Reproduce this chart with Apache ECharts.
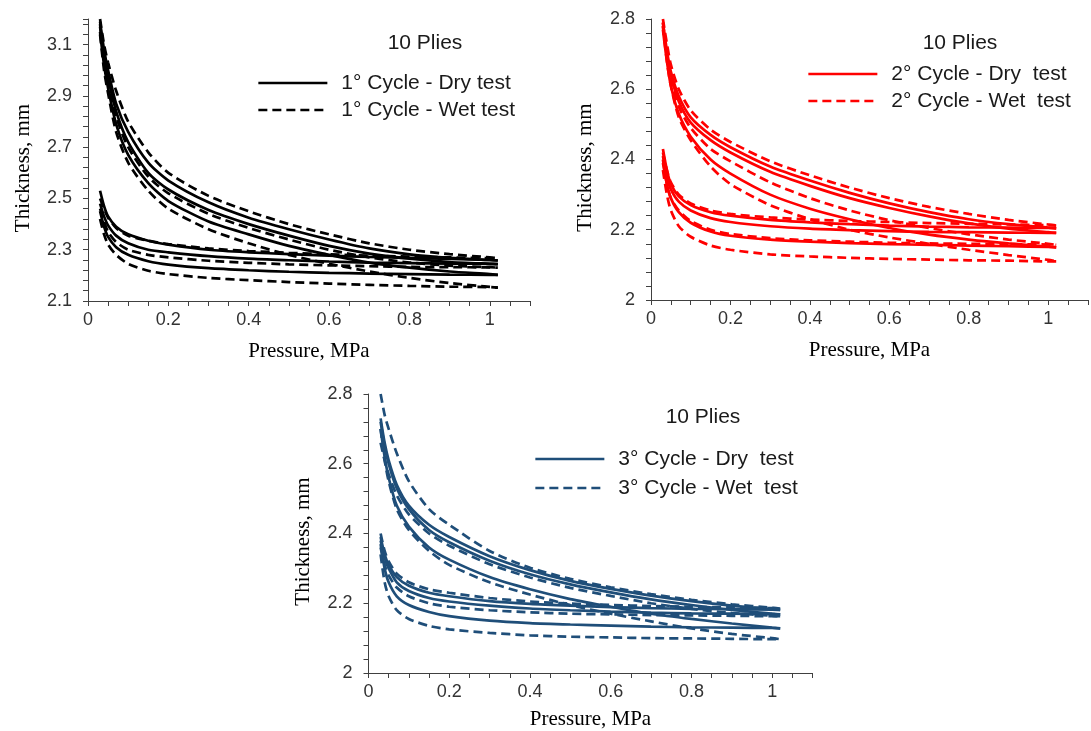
<!DOCTYPE html>
<html>
<head>
<meta charset="utf-8">
<script src="https://cdn.jsdelivr.net/npm/echarts@6/dist/echarts.min.js"></script>
<style>
  html, body { margin: 0; padding: 0; background: #ffffff; }
  #chart { width: 1091px; height: 731px; }
</style>
</head>
<body>
<div id="chart"></div>
<script>
// Pressure (MPa) at which thickness was recorded; shared by every branch
const pressure = [0.03, 0.04, 0.05, 0.07, 0.1, 0.15, 0.2, 0.3, 0.4, 0.5, 0.6, 0.7, 0.8, 0.9, 1.0, 1.02];

// Tick labels
const xTickLabels = ['0', '0.2', '0.4', '0.6', '0.8', '1'];
const yTickLabelsCycle1 = ['2.1', '2.3', '2.5', '2.7', '2.9', '3.1'];
const yTickLabelsCycle23 = ['2', '2.2', '2.4', '2.6', '2.8'];

// ---- 1st cycle: thickness (mm), one row per specimen ----
const cycle1DryLoading = [
  [3.19, 3.08, 3.00, 2.87, 2.76, 2.64, 2.570, 2.485, 2.425, 2.38, 2.340, 2.305, 2.282, 2.268, 2.260, 2.258],
  [3.17, 3.05, 2.97, 2.84, 2.72, 2.60, 2.535, 2.455, 2.400, 2.355, 2.315, 2.285, 2.265, 2.252, 2.245, 2.244],
  [3.15, 3.02, 2.93, 2.79, 2.67, 2.56, 2.490, 2.410, 2.360, 2.315, 2.280, 2.250, 2.230, 2.215, 2.205, 2.202]
];
const cycle1DryUnloading = [
  [2.53, 2.47, 2.43, 2.39, 2.36, 2.335, 2.320, 2.300, 2.290, 2.283, 2.277, 2.272, 2.268, 2.264, 2.260, 2.258],
  [2.48, 2.43, 2.395, 2.355, 2.325, 2.300, 2.290, 2.275, 2.265, 2.259, 2.254, 2.250, 2.248, 2.246, 2.245, 2.244],
  [2.45, 2.39, 2.35, 2.31, 2.28, 2.255, 2.242, 2.228, 2.220, 2.214, 2.210, 2.207, 2.205, 2.203, 2.202, 2.202]
];
const cycle1WetLoading = [
  [3.20, 3.10, 3.03, 2.92, 2.80, 2.68, 2.600, 2.510, 2.450, 2.400, 2.360, 2.325, 2.300, 2.283, 2.270, 2.267],
  [3.18, 3.05, 2.96, 2.82, 2.70, 2.585, 2.520, 2.440, 2.385, 2.340, 2.300, 2.270, 2.250, 2.238, 2.232, 2.230],
  [3.14, 3.00, 2.91, 2.76, 2.64, 2.53, 2.460, 2.380, 2.325, 2.280, 2.245, 2.215, 2.190, 2.170, 2.155, 2.152]
];
const cycle1WetUnloading = [
  [2.50, 2.46, 2.425, 2.385, 2.355, 2.335, 2.322, 2.305, 2.295, 2.288, 2.282, 2.277, 2.273, 2.270, 2.267, 2.267],
  [2.46, 2.41, 2.37, 2.33, 2.30, 2.280, 2.270, 2.257, 2.249, 2.243, 2.239, 2.236, 2.233, 2.232, 2.231, 2.230],
  [2.42, 2.36, 2.32, 2.28, 2.245, 2.218, 2.205, 2.190, 2.181, 2.174, 2.168, 2.163, 2.159, 2.156, 2.154, 2.152]
];

// ---- 2nd cycle ----
const cycle2DryLoading = [
  [2.79, 2.71, 2.65, 2.58, 2.52, 2.47, 2.435, 2.380, 2.340, 2.305, 2.275, 2.250, 2.230, 2.216, 2.206, 2.204],
  [2.78, 2.70, 2.64, 2.565, 2.505, 2.455, 2.420, 2.365, 2.325, 2.290, 2.262, 2.238, 2.218, 2.203, 2.193, 2.191],
  [2.77, 2.68, 2.61, 2.53, 2.465, 2.40, 2.360, 2.300, 2.260, 2.230, 2.205, 2.186, 2.172, 2.161, 2.152, 2.150]
];
const cycle2DryUnloading = [
  [2.43, 2.37, 2.33, 2.295, 2.27, 2.25, 2.240, 2.228, 2.221, 2.216, 2.212, 2.209, 2.207, 2.206, 2.205, 2.204],
  [2.41, 2.35, 2.315, 2.28, 2.255, 2.233, 2.222, 2.210, 2.203, 2.199, 2.196, 2.194, 2.193, 2.192, 2.191, 2.191],
  [2.40, 2.33, 2.29, 2.25, 2.22, 2.195, 2.183, 2.172, 2.166, 2.162, 2.159, 2.157, 2.155, 2.153, 2.151, 2.150]
];
const cycle2WetLoading = [
  [2.80, 2.73, 2.67, 2.60, 2.54, 2.485, 2.450, 2.395, 2.355, 2.320, 2.290, 2.265, 2.245, 2.228, 2.215, 2.212],
  [2.79, 2.70, 2.63, 2.55, 2.49, 2.43, 2.395, 2.335, 2.290, 2.255, 2.227, 2.205, 2.187, 2.172, 2.160, 2.157],
  [2.78, 2.68, 2.61, 2.52, 2.455, 2.38, 2.330, 2.270, 2.230, 2.200, 2.178, 2.160, 2.143, 2.128, 2.114, 2.110]
];
const cycle2WetUnloading = [
  [2.42, 2.37, 2.335, 2.30, 2.275, 2.255, 2.245, 2.235, 2.229, 2.225, 2.222, 2.219, 2.217, 2.215, 2.213, 2.212],
  [2.39, 2.33, 2.29, 2.255, 2.225, 2.20, 2.188, 2.176, 2.170, 2.166, 2.163, 2.161, 2.160, 2.159, 2.158, 2.157],
  [2.37, 2.30, 2.255, 2.21, 2.18, 2.155, 2.143, 2.130, 2.124, 2.120, 2.117, 2.115, 2.113, 2.112, 2.110, 2.110]
];

// ---- 3rd cycle ----
const cycle3DryLoading = [
  [2.73, 2.66, 2.61, 2.54, 2.48, 2.425, 2.390, 2.335, 2.295, 2.264, 2.241, 2.222, 2.206, 2.193, 2.183, 2.181],
  [2.72, 2.65, 2.60, 2.53, 2.47, 2.41, 2.375, 2.322, 2.283, 2.254, 2.231, 2.211, 2.195, 2.181, 2.170, 2.168],
  [2.70, 2.62, 2.56, 2.48, 2.42, 2.36, 2.325, 2.275, 2.240, 2.212, 2.190, 2.170, 2.155, 2.142, 2.130, 2.128]
];
const cycle3DryUnloading = [
  [2.39, 2.34, 2.31, 2.275, 2.25, 2.23, 2.220, 2.206, 2.198, 2.193, 2.189, 2.186, 2.184, 2.183, 2.182, 2.181],
  [2.38, 2.33, 2.30, 2.26, 2.235, 2.215, 2.205, 2.193, 2.185, 2.180, 2.176, 2.173, 2.171, 2.170, 2.169, 2.168],
  [2.37, 2.30, 2.26, 2.22, 2.195, 2.175, 2.163, 2.150, 2.143, 2.139, 2.136, 2.133, 2.131, 2.130, 2.129, 2.128]
];
const cycle3WetLoading = [
  [2.80, 2.74, 2.70, 2.63, 2.55, 2.47, 2.425, 2.350, 2.302, 2.270, 2.246, 2.226, 2.210, 2.197, 2.187, 2.185],
  [2.66, 2.61, 2.57, 2.51, 2.455, 2.40, 2.365, 2.312, 2.274, 2.244, 2.221, 2.200, 2.184, 2.172, 2.164, 2.163],
  [2.70, 2.61, 2.55, 2.47, 2.41, 2.35, 2.310, 2.260, 2.225, 2.195, 2.170, 2.148, 2.128, 2.112, 2.100, 2.097]
];
const cycle3WetUnloading = [
  [2.40, 2.35, 2.32, 2.285, 2.26, 2.24, 2.230, 2.215, 2.205, 2.199, 2.195, 2.192, 2.190, 2.188, 2.186, 2.185],
  [2.36, 2.31, 2.28, 2.245, 2.22, 2.20, 2.190, 2.180, 2.174, 2.170, 2.168, 2.166, 2.165, 2.164, 2.163, 2.163],
  [2.34, 2.26, 2.22, 2.18, 2.155, 2.135, 2.125, 2.115, 2.108, 2.104, 2.102, 2.100, 2.099, 2.098, 2.097, 2.097]
];

const SANS = "'Liberation Sans', Arial, sans-serif";
const SERIF = "'Liberation Serif', 'Times New Roman', serif";
const AXIS_COLOR = '#404040';
const TEXT_COLOR = '#1a1a1a';

// Layout and styling of the three panels
const panels = [
  {
    grid: { left: 88, top: 19, width: 442, height: 282 },
    yMin: 2.1, yMax: 3.2, yLabels: yTickLabelsCycle1,
    color: '#000000',
    dryName: '1° Cycle - Dry test', wetName: '1° Cycle - Wet test',
    legend: { left: 252, top: 67, itemGap: 5 },
    title: { left: 420, top: 28 },
    nameGapX: 40, nameGapY: 54,
    dry: [cycle1DryLoading, cycle1DryUnloading],
    wet: [cycle1WetLoading, cycle1WetUnloading]
  },
  {
    grid: { left: 651, top: 19, width: 442, height: 281 },
    yMin: 2.0, yMax: 2.8, yLabels: yTickLabelsCycle23,
    color: '#ff0000',
    dryName: '2° Cycle - Dry  test', wetName: '2° Cycle - Wet  test',
    legend: { left: 802, top: 58, itemGap: 5 },
    title: { left: 955, top: 28 },
    nameGapX: 40, nameGapY: 55,
    dry: [cycle2DryLoading, cycle2DryUnloading],
    wet: [cycle2WetLoading, cycle2WetUnloading]
  },
  {
    grid: { left: 368.5, top: 394, width: 444, height: 279 },
    yMin: 2.0, yMax: 2.8, yLabels: yTickLabelsCycle23,
    color: '#1f4e79',
    dryName: '3° Cycle - Dry  test', wetName: '3° Cycle - Wet  test',
    legend: { left: 529, top: 443, itemGap: 7 },
    title: { left: 698, top: 402 },
    nameGapX: 36, nameGapY: 55,
    dry: [cycle3DryLoading, cycle3DryUnloading],
    wet: [cycle3WetLoading, cycle3WetUnloading]
  }
];

function labelFrom(list) {
  return function (v) {
    const s = String(+v.toFixed(2));
    return list.indexOf(s) >= 0 ? s : '';
  };
}

function branch(name, values, color, dashed, idx) {
  return {
    type: 'line',
    name: name,
    xAxisIndex: idx,
    yAxisIndex: idx,
    data: pressure.map((p, i) => [p, values[i]]),
    symbol: 'none',
    showSymbol: false,
    smooth: 0.25,
    lineStyle: { color: color, width: 2.7, type: dashed ? [9, 5] : 'solid', cap: 'butt' },
    itemStyle: { color: color },
    emphasis: { disabled: true },
    silent: true,
    z: dashed ? 3 : 2
  };
}

const grids = [], xAxes = [], yAxes = [], series = [], legends = [], titles = [];

panels.forEach((pn, idx) => {
  grids.push(Object.assign({ containLabel: false }, pn.grid));

  xAxes.push({
    type: 'value', gridIndex: idx, min: 0, max: 1.1, interval: 0.05,
    name: 'Pressure, MPa', nameLocation: 'middle', nameGap: pn.nameGapX,
    nameTextStyle: { fontFamily: SERIF, fontSize: 21, color: '#000000' },
    axisLine: { show: true, onZero: false, lineStyle: { color: AXIS_COLOR, width: 1 } },
    axisTick: { show: true, inside: false, length: 5, lineStyle: { color: AXIS_COLOR, width: 1 } },
    axisLabel: { margin: 10, fontFamily: SANS, fontSize: 18, color: '#333333',
                 formatter: labelFrom(xTickLabels), showMaxLabel: true, showMinLabel: true },
    splitLine: { show: false }
  });

  yAxes.push({
    type: 'value', gridIndex: idx, min: pn.yMin, max: pn.yMax, interval: 0.04,
    name: 'Thickness, mm', nameLocation: 'middle', nameGap: pn.nameGapY,
    nameTextStyle: { fontFamily: SERIF, fontSize: 21, color: '#000000', padding: [0, 16, 0, 0] },
    axisLine: { show: true, onZero: false, lineStyle: { color: AXIS_COLOR, width: 1 } },
    axisTick: { show: true, inside: false, length: 5, lineStyle: { color: AXIS_COLOR, width: 1 } },
    axisLabel: { margin: 16, fontFamily: SANS, fontSize: 18, color: '#333333',
                 formatter: labelFrom(pn.yLabels) },
    splitLine: { show: false }
  });

  pn.dry.forEach(group => group.forEach(vals => series.push(branch(pn.dryName, vals, pn.color, false, idx))));
  pn.wet.forEach(group => group.forEach(vals => series.push(branch(pn.wetName, vals, pn.color, true, idx))));

  legends.push({
    orient: 'vertical',
    left: pn.legend.left, top: pn.legend.top,
    itemWidth: 69, itemHeight: 14, itemGap: pn.legend.itemGap,
    selectedMode: false,
    data: [pn.dryName, pn.wetName],
    itemStyle: { opacity: 0 },
    lineStyle: { width: 2.7 },
    textStyle: { fontFamily: SANS, fontSize: 21, color: TEXT_COLOR, lineHeight: 22, padding: [0, 0, 0, 9] }
  });

  titles.push({
    text: '10 Plies', left: pn.title.left, top: pn.title.top, textAlign: 'center',
    textStyle: { fontFamily: SANS, fontSize: 21, fontWeight: 'normal', color: TEXT_COLOR }
  });
});

const chart = echarts.init(document.getElementById('chart'), null, { renderer: 'canvas' });
chart.setOption({
  animation: false,
  backgroundColor: '#ffffff',
  title: titles,
  legend: legends,
  grid: grids,
  xAxis: xAxes,
  yAxis: yAxes,
  series: series
});
</script>
</body>
</html>
